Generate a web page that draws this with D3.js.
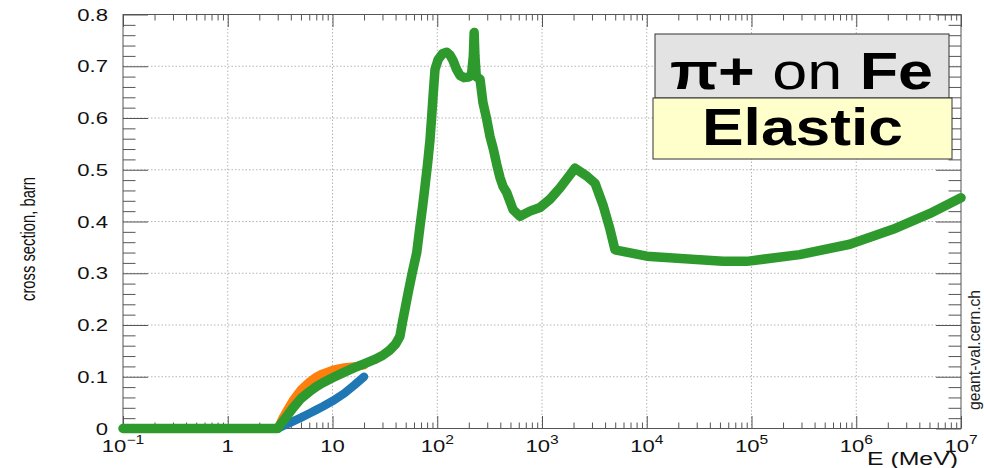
<!DOCTYPE html>
<html><head><meta charset="utf-8">
<script src="https://cdn.jsdelivr.net/npm/d3@7"></script>
<style>
html,body{margin:0;padding:0;background:#fff;}
svg{display:block;font-family:"Liberation Sans",Arial,Helvetica,sans-serif;}
</style></head><body>
<svg id="chart" width="984" height="468"></svg>
<script>
// Elastic cross section of pi+ on Fe, energy in MeV, cross section in barn
const greenEnergy = [0.1, 0.3, 1, 2, 3, 3.3, 3.7, 4.2, 5, 6, 7, 8, 10, 13, 16, 20, 25, 30, 35, 40, 44, 46.5, 52.5, 57.6, 63.7, 68.4, 72.6, 76.4, 81.1, 85.3, 88.5, 91.7, 95.2, 102, 112, 123, 132, 141, 152, 165, 180, 197, 212, 221, 225, 229, 236, 256, 273, 297, 319, 343, 370, 397, 424, 460, 529, 617, 768, 957, 1192, 1486, 1849, 2065, 2672, 3206, 3849, 4459, 4977, 10000, 53400, 90000, 289000, 869000, 2240000, 5000000, 10000000];
const greenXS = [0, 0, 0, 0, 0, 0.012, 0.025, 0.04, 0.058, 0.071, 0.081, 0.088, 0.098, 0.109, 0.117, 0.125, 0.133, 0.141, 0.151, 0.163, 0.178, 0.205, 0.26, 0.30, 0.34, 0.39, 0.43, 0.468, 0.514, 0.558, 0.603, 0.649, 0.694, 0.713, 0.724, 0.727, 0.722, 0.712, 0.695, 0.682, 0.678, 0.679, 0.682, 0.72, 0.765, 0.72, 0.68, 0.675, 0.63, 0.597, 0.564, 0.54, 0.51, 0.485, 0.468, 0.456, 0.423, 0.41, 0.42, 0.427, 0.443, 0.465, 0.49, 0.503, 0.488, 0.474, 0.43, 0.385, 0.345, 0.333, 0.323, 0.323, 0.336, 0.356, 0.385, 0.415, 0.446];

const orangeEnergy = [3, 3.3, 3.7, 4.2, 5, 6, 7, 8, 10, 13, 16, 20];
const orangeXS = [0, 0.018, 0.036, 0.055, 0.075, 0.09, 0.1, 0.106, 0.113, 0.118, 0.12, 0.122];

const blueEnergy = [3, 3.3, 4, 5, 6, 7, 8, 10, 13, 16, 20];
const blueXS = [0, 0.004, 0.012, 0.021, 0.029, 0.036, 0.042, 0.053, 0.068, 0.083, 0.1];

const xTickExponents = [-1, 0, 1, 2, 3, 4, 5, 6, 7];
const yTickValues = [0, 0.1, 0.2, 0.3, 0.4, 0.5, 0.6, 0.7, 0.8];
const yTickLabels = ["0", "0.1", "0.2", "0.3", "0.4", "0.5", "0.6", "0.7", "0.8"];

const svg = d3.select("#chart");
const plotLeft = 123, plotRight = 961, plotTop = 14.5, plotBottom = 428.5;
const x = d3.scaleLog().domain([0.1, 1e7]).range([plotLeft, plotRight]);
const y = d3.scaleLinear().domain([0, 0.8]).range([plotBottom, plotTop]);

const axisColor = "#555";
const decades = xTickExponents.map(e => Math.pow(10, e));
const minorX = [];
decades.slice(0, -1).forEach(d => { for (let k = 2; k <= 9; k++) minorX.push(d * k); });
const minorY = d3.range(0, 41).map(i => i * 0.02).filter(v => Math.abs(v * 10 - Math.round(v * 10)) > 1e-6);

// grid
const grid = svg.append("g").attr("stroke", "#b4b4b4").attr("stroke-dasharray", "1.5,2").attr("stroke-width", 1);
decades.slice(1, -1).forEach(d => grid.append("line").attr("x1", x(d)).attr("x2", x(d)).attr("y1", plotTop).attr("y2", plotBottom));
yTickValues.slice(1, -1).forEach(v => grid.append("line").attr("x1", plotLeft).attr("x2", plotRight).attr("y1", y(v)).attr("y2", y(v)));

// axes with inward ticks on all four sides
function addAxis(gen, tx, ty) {
  const g = svg.append("g").attr("transform", `translate(${tx},${ty})`).call(gen);
  g.select(".domain").remove();
  g.selectAll("text").remove();
  g.selectAll("line").attr("stroke", axisColor);
}
addAxis(d3.axisBottom(x).tickValues(decades).tickSize(-12.5).tickFormat(""), 0, plotBottom);
addAxis(d3.axisBottom(x).tickValues(minorX).tickSize(-6).tickFormat(""), 0, plotBottom);
addAxis(d3.axisTop(x).tickValues(decades).tickSize(-12.5).tickFormat(""), 0, plotTop);
addAxis(d3.axisTop(x).tickValues(minorX).tickSize(-6).tickFormat(""), 0, plotTop);
addAxis(d3.axisLeft(y).tickValues(yTickValues).tickSize(-25).tickFormat(""), plotLeft, 0);
addAxis(d3.axisLeft(y).tickValues(minorY).tickSize(-12.5).tickFormat(""), plotLeft, 0);
addAxis(d3.axisRight(y).tickValues(yTickValues).tickSize(-25).tickFormat(""), plotRight, 0);
addAxis(d3.axisRight(y).tickValues(minorY).tickSize(-12.5).tickFormat(""), plotRight, 0);

svg.append("rect").attr("x", plotLeft).attr("y", plotTop).attr("width", plotRight - plotLeft).attr("height", plotBottom - plotTop)
  .attr("fill", "none").attr("stroke", axisColor).attr("stroke-width", 1);

// tick labels (wide face)
const labelScale = 1.3;
yTickValues.forEach((v, i) => {
  svg.append("text").attr("transform", `translate(108,${y(v) + 6}) scale(${labelScale},1)`)
    .attr("text-anchor", "end").attr("font-size", 17).attr("fill", "#111").text(yTickLabels[i]);
});
xTickExponents.forEach(e => {
  const t = svg.append("text").attr("transform", `translate(${x(Math.pow(10, e))},452) scale(${labelScale},1)`)
    .attr("text-anchor", "middle").attr("font-size", 17).attr("fill", "#111");
  if (e === 0) { t.text("1"); return; }
  t.append("tspan").text("10");
  if (e !== 1) t.append("tspan").attr("dy", -8).attr("font-size", 12).text(e < 0 ? "\u2212" + (-e) : String(e));
});

// axis titles
svg.append("text").attr("x", 958).attr("y", 465).attr("text-anchor", "end").attr("font-size", 18)
  .attr("textLength", 91).attr("lengthAdjust", "spacingAndGlyphs").attr("fill", "#111").text("E (MeV)");
svg.append("text").attr("transform", "translate(35,239) rotate(-90)").attr("text-anchor", "middle").attr("font-size", 20)
  .attr("textLength", 124).attr("lengthAdjust", "spacingAndGlyphs").attr("fill", "#111").text("cross section, barn");
svg.append("text").attr("transform", "translate(980,350) rotate(-90)").attr("text-anchor", "middle").attr("font-size", 17)
  .attr("textLength", 120).attr("lengthAdjust", "spacingAndGlyphs").attr("fill", "#222").text("geant-val.cern.ch");

// curves
const line = d3.line().x(d => x(d[0])).y(d => y(d[1]));
function drawCurve(es, vs, color, w) {
  svg.append("path").datum(es.map((e, i) => [e, vs[i]]))
    .attr("d", line).attr("fill", "none").attr("stroke", color).attr("stroke-width", w)
    .attr("stroke-linecap", "round").attr("stroke-linejoin", "round");
}
drawCurve(blueEnergy, blueXS, "#1f77b4", 8.5);
drawCurve(orangeEnergy, orangeXS, "#ff7f0e", 8.5);
drawCurve(greenEnergy, greenXS, "#2e9a2e", 9.5);

// label boxes
svg.append("rect").attr("x", 655).attr("y", 34).attr("width", 294).attr("height", 64)
  .attr("fill", "#e3e3e3").attr("stroke", "#333").attr("stroke-width", 1);
const t1 = svg.append("text").attr("x", 670).attr("y", 89).attr("font-size", 52)
  .attr("textLength", 263).attr("lengthAdjust", "spacingAndGlyphs").attr("fill", "#000");
t1.append("tspan").attr("font-weight", "bold").text("\u03c0+");
t1.append("tspan").text(" on ");
t1.append("tspan").attr("font-weight", "bold").text("Fe");

svg.append("rect").attr("x", 653).attr("y", 98).attr("width", 299).attr("height", 61)
  .attr("fill", "#ffffcc").attr("stroke", "#333").attr("stroke-width", 1);
svg.append("text").attr("x", 702).attr("y", 145).attr("font-size", 52).attr("font-weight", "bold")
  .attr("textLength", 201).attr("lengthAdjust", "spacingAndGlyphs").attr("fill", "#000").text("Elastic");
</script>
</body></html>
